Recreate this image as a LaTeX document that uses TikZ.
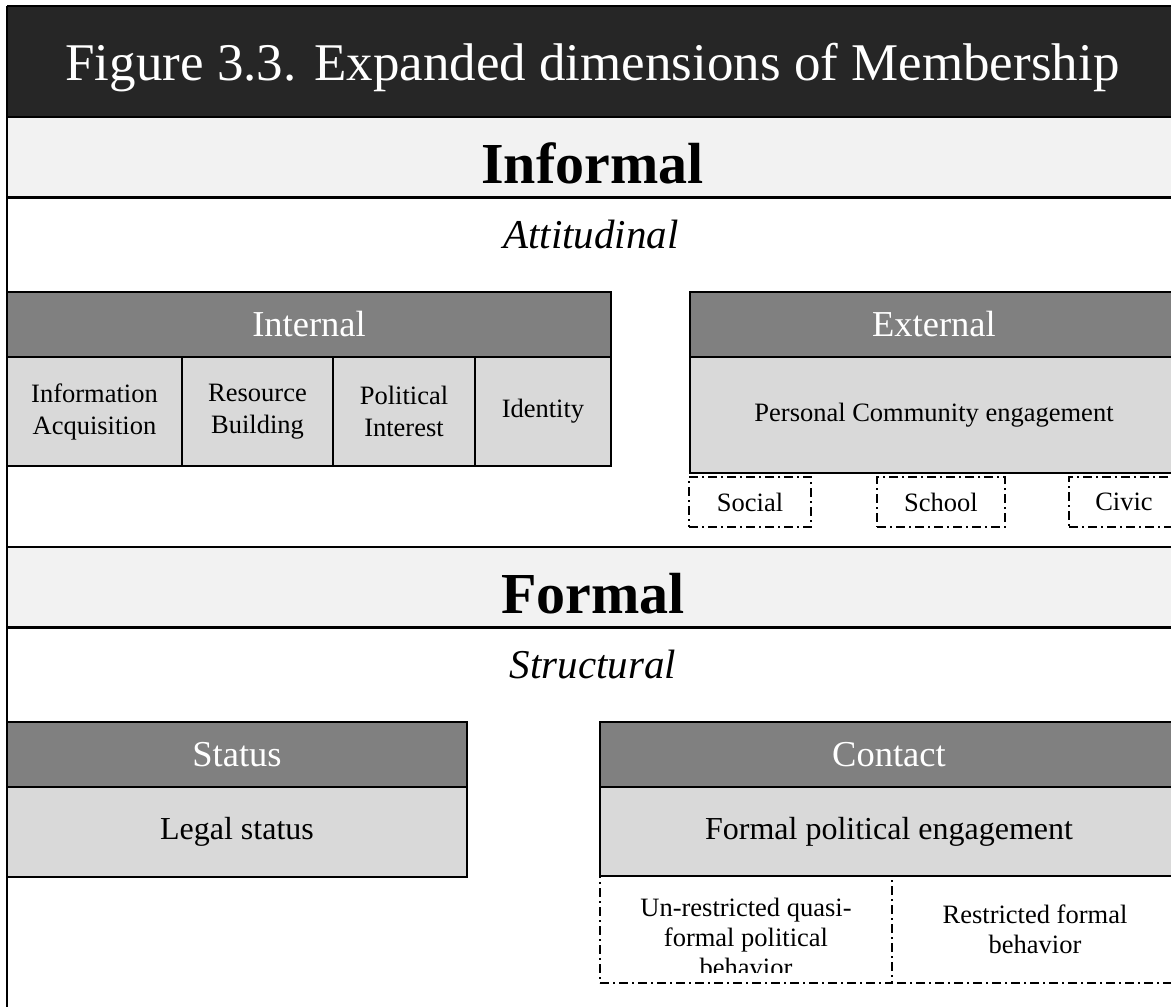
\documentclass[tikz,border=0pt]{standalone}
\usepackage{fontspec}
\setmainfont{Liberation Serif}
\definecolor{titlegray}{HTML}{262626}
\definecolor{bandgray}{HTML}{F2F2F2}
\definecolor{hdrgray}{HTML}{808080}
\definecolor{cellgray}{HTML}{D9D9D9}
\begin{document}
\begin{tikzpicture}[x=1pt,y=-1pt,
  every node/.style={inner sep=0pt, outer sep=0pt},
  rbox/.style={anchor=north west, draw=black, line width=1.5pt, align=center},
  hdr/.style={rbox, fill=hdrgray, text=white, font=\fontsize{36.5}{40}\selectfont},
  cell/.style={rbox, fill=cellgray, font=\fontsize{26.5}{32}\selectfont},
  bigcell/.style={rbox, fill=cellgray, font=\fontsize{32}{38}\selectfont},
  ddline/.style={draw=black, dash pattern=on 9pt off 4pt on 2pt off 4pt, line width=1.3pt},
  ddbox/.style={rbox, ddline, fill=none, font=\fontsize{26.5}{30}\selectfont},
  band/.style={anchor=north west, fill=bandgray, minimum width=1180pt, minimum height=80pt},
  bandtitle/.style={anchor=base, font=\fontsize{58}{64}\selectfont\bfseries},
  subtitle/.style={anchor=base, font=\fontsize{41}{48}\selectfont\itshape},
  rule/.style={draw=black, line width=#1},
]
\useasboundingbox (0,0) rectangle (1171,1007);
\clip (0,0) rectangle (1171,1007);
\fill[white] (0,0) rectangle (1171,1007);

% title band
\node[anchor=north west, fill=titlegray, minimum width=1180pt, minimum height=111pt] (titleband) at (7,6) {};
\node[anchor=base, text=white, font=\fontsize{53}{60}\selectfont] (title) at (592.5,80) {Figure 3.3. Expanded dimensions of Membership};

% Informal band
\node[band] (infband) at (7,117) {};
\node[bandtitle] (informal) at (592.5,183) {Informal};
\node[subtitle] (attitudinal) at (591,248) {Attitudinal};

% Internal
\node[hdr, minimum width=604pt, minimum height=65pt] (internal) at (7,292) {Internal};
\node[cell, minimum width=175pt, minimum height=109pt] (info) at (7,357) {Information\\Acquisition};
\node[cell, minimum width=151pt, minimum height=109pt] (resource) at (182,357) {Resource\\Building};
\node[cell, minimum width=142pt, minimum height=109pt] (polint) at (333,357) {Political\\Interest};
\node[cell, minimum width=136pt, minimum height=109pt] (identity) at (475,357) {Identity};

% External
\node[hdr, minimum width=488pt, minimum height=65pt] (external) at (690,292) {External};
\node[cell, minimum width=488pt, minimum height=116pt] (pce) at (690,357) {Personal Community engagement};
\node[ddbox, minimum width=122pt, minimum height=50pt] (social) at (689,477) {Social};
\node[ddbox, minimum width=128pt, minimum height=50pt] (school) at (877,477) {School};
\node[ddbox, minimum width=110pt, minimum height=50pt] (civic) at (1069,477) {Civic};

% Formal band
\node[band] (forband) at (7,547) {};
\node[bandtitle] (formal) at (593,613) {Formal};
\node[subtitle] (structural) at (593,678) {Structural};

% Status
\node[hdr, minimum width=460pt, minimum height=65pt] (status) at (7,722) {Status};
\node[bigcell, minimum width=460pt, minimum height=90pt] (legal) at (7,787) {Legal status};

% Contact
\node[hdr, minimum width=578pt, minimum height=65pt] (contact) at (600,722) {Contact};
\node[bigcell, minimum width=578pt, minimum height=89pt] (fpe) at (600,787) {Formal political engagement};
\node[ddbox, minimum width=292pt, minimum height=107pt] (unres) at (600,876) {};
\node[anchor=north west, align=center, minimum width=286pt, minimum height=107pt, font=\fontsize{26.5}{30}\selectfont] (restr) at (892,876) {Restricted formal\\behavior};
\draw[ddline] (restr.north west) -- (restr.north east) -- (restr.south east) -- (restr.south west);
\begin{scope}
\clip (600,876) rectangle (892,972);
\node[align=center, font=\fontsize{26.5}{30}\selectfont] (unrestext) at (746,937) {Un-restricted quasi-\\formal political\\behavior};
\end{scope}

% rules
\draw[rule=2pt] (titleband.north west) -- (titleband.north east);
\draw[rule=2pt] (infband.north west) -- (infband.north east);
\draw[rule=3pt] (infband.south west) -- (infband.south east);
\draw[rule=2pt] (forband.north west) -- (forband.north east);
\draw[rule=3pt] (forband.south west) -- (forband.south east);
\draw[rule=2pt] (titleband.north west) -- (7,1010);
\end{tikzpicture}
\end{document}
